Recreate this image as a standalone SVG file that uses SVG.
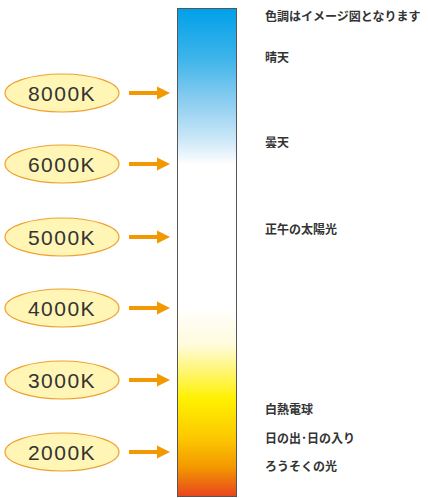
<svg xmlns="http://www.w3.org/2000/svg" width="428" height="498" viewBox="0 0 428 498">
<style>
.ell{fill:#fff5b5;stroke:#f0a030;stroke-width:1.2}
.kt{font-family:"Liberation Sans",Arial,sans-serif;font-size:21px;fill:#333;letter-spacing:1.5px;text-anchor:middle}
.lb{font-family:"Noto Sans CJK JP","Noto Sans",sans-serif;font-size:12px;font-weight:bold;fill:#333}
.arr{stroke:#f39800;stroke-width:4;fill:none}
.ah{fill:#f39800}
</style>
<defs>
<linearGradient id="g" x1="0" y1="0" x2="0" y2="1">
<stop offset="0" stop-color="#00a0e9"/>
<stop offset="0.1" stop-color="#3cb4ea"/>
<stop offset="0.19" stop-color="#8bcdf0"/>
<stop offset="0.27" stop-color="#cde8f8"/>
<stop offset="0.32" stop-color="#ffffff"/>
<stop offset="0.61" stop-color="#ffffff"/>
<stop offset="0.69" stop-color="#fffbdc"/>
<stop offset="0.8" stop-color="#fff100"/>
<stop offset="0.88" stop-color="#fcc800"/>
<stop offset="0.94" stop-color="#f39800"/>
<stop offset="1" stop-color="#e8451e"/>
</linearGradient>
</defs>
<g id="bar"><rect x="177.5" y="8.5" width="59" height="488" fill="url(#g)" stroke="#555" stroke-width="1"/></g>
<g id="n8000"><ellipse class="ell" cx="62" cy="93" rx="57" ry="19"/><text class="kt" x="62" y="100.5">8000K</text></g>
<g id="n6000"><ellipse class="ell" cx="62" cy="164" rx="57" ry="19"/><text class="kt" x="62" y="171.5">6000K</text></g>
<g id="n5000"><ellipse class="ell" cx="62" cy="237" rx="57" ry="19"/><text class="kt" x="62" y="244.5">5000K</text></g>
<g id="n4000"><ellipse class="ell" cx="62" cy="308" rx="57" ry="19"/><text class="kt" x="62" y="315.5">4000K</text></g>
<g id="n3000"><ellipse class="ell" cx="62" cy="380" rx="57" ry="19"/><text class="kt" x="62" y="387.5">3000K</text></g>
<g id="n2000"><ellipse class="ell" cx="62" cy="452" rx="57" ry="19"/><text class="kt" x="62" y="459.5">2000K</text></g>
<g id="connectors">
<line class="arr" x1="129" y1="93" x2="158" y2="93"/><polygon class="ah" points="157,86.5 170,93 157,99.5"/>
<line class="arr" x1="129" y1="164" x2="158" y2="164"/><polygon class="ah" points="157,157.5 170,164 157,170.5"/>
<line class="arr" x1="129" y1="237" x2="158" y2="237"/><polygon class="ah" points="157,230.5 170,237 157,243.5"/>
<line class="arr" x1="129" y1="308" x2="158" y2="308"/><polygon class="ah" points="157,301.5 170,308 157,314.5"/>
<line class="arr" x1="129" y1="380" x2="158" y2="380"/><polygon class="ah" points="157,373.5 170,380 157,386.5"/>
<line class="arr" x1="129" y1="452" x2="158" y2="452"/><polygon class="ah" points="157,445.5 170,452 157,458.5"/>
</g>
<g id="labels">
<text class="lb" x="265" y="21">色調はイメージ図となります</text>
<text class="lb" x="265" y="62">晴天</text>
<text class="lb" x="265" y="147">曇天</text>
<text class="lb" x="265" y="234">正午の太陽光</text>
<text class="lb" x="265" y="414">白熱電球</text>
<text class="lb" x="265" y="443">日の出･日の入り</text>
<text class="lb" x="265" y="471">ろうそくの光</text>
</g>
</svg>
